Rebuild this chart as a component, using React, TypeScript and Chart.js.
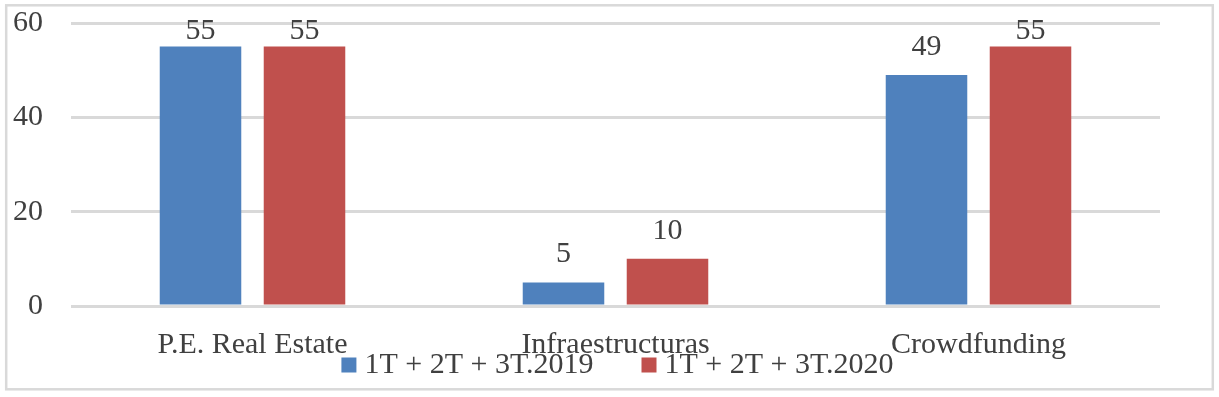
import React, { useEffect, useRef } from "react";
import { Chart, registerables } from "chart.js";

Chart.register(...registerables);

const categories = ["P.E. Real Estate", "Infraestructuras", "Crowdfunding"];
const series2019 = [55, 5, 49];
const series2020 = [55, 10, 55];
const seriesLabels = ["1T + 2T + 3T.2019", "1T + 2T + 3T.2020"];
const seriesColors = ["#4f81bd", "#c0504d"];
const yTicks = [0, 20, 40, 60];

const FONT = "'Liberation Serif', 'Times New Roman', serif";
const FONT_SIZE = 30;

const borderPlugin = {
  id: "outerBorder",
  beforeDraw(chart: any) {
    const ctx = chart.ctx;
    ctx.save();
    ctx.fillStyle = "#ffffff";
    ctx.fillRect(0, 0, chart.width, chart.height);
    ctx.strokeStyle = "#d9d9d9";
    ctx.lineWidth = 2.5;
    ctx.strokeRect(6.2, 5.3, 1212.8 - 6.2, 389.3 - 5.3);
    ctx.restore();
  },
};

const dataLabelPlugin = {
  id: "dataLabels",
  afterDatasetsDraw(chart: any) {
    const ctx = chart.ctx;
    ctx.save();
    ctx.font = `${FONT_SIZE}px ${FONT}`;
    ctx.fillStyle = "#404040";
    ctx.textAlign = "center";
    ctx.textBaseline = "alphabetic";
    chart.data.datasets.forEach((ds: any, i: number) => {
      const meta = chart.getDatasetMeta(i);
      meta.data.forEach((el: any, j: number) => {
        const y = Math.max(el.y - 20, chart.chartArea.top + 16);
        ctx.fillText(String(ds.data[j]), el.x, y);
      });
    });
    ctx.restore();
  },
};

const legendPlugin = {
  id: "customLegend",
  afterDraw(chart: any) {
    const ctx = chart.ctx;
    const box = 15;
    const gap = 8;
    const spacing = 48;
    ctx.save();
    ctx.font = `${FONT_SIZE}px ${FONT}`;
    const items = chart.data.datasets.map((ds: any) => ({
      text: ds.label,
      color: ds.backgroundColor,
      w: ctx.measureText(ds.label).width,
    }));
    const total =
      items.reduce((s: number, it: any) => s + box + gap + it.w, 0) + spacing * (items.length - 1);
    const cx = (chart.chartArea.left + chart.chartArea.right) / 2 + 2;
    const cy = 365;
    let x = cx - total / 2;
    ctx.textBaseline = "middle";
    ctx.textAlign = "left";
    items.forEach((it: any) => {
      ctx.fillStyle = it.color;
      ctx.fillRect(x, cy - box / 2, box, box);
      x += box + gap;
      ctx.fillStyle = "#404040";
      ctx.fillText(it.text, x, cy);
      x += it.w + spacing;
    });
    ctx.restore();
  },
};

export default function App() {
  const ref = useRef<HTMLCanvasElement>(null);
  useEffect(() => {
    if (!ref.current) return;
    const chart = new Chart(ref.current, {
      type: "bar",
      data: {
        labels: categories,
        datasets: [
          { label: seriesLabels[0], data: series2019, backgroundColor: seriesColors[0] },
          { label: seriesLabels[1], data: series2020, backgroundColor: seriesColors[1] },
        ],
      },
      options: {
        responsive: false,
        animation: false,
        devicePixelRatio: 1,
        layout: { padding: { top: 23, left: 0, right: 59, bottom: 0 } },
        datasets: { bar: { categoryPercentage: 0.573, barPercentage: 0.784 } },
        plugins: {
          tooltip: { enabled: false },
          legend: { display: false },
        },
        scales: {
          x: {
            grid: { display: false },
            border: { display: false },
            ticks: {
              color: "#404040",
              padding: 13,
              font: { family: FONT, size: FONT_SIZE },
              maxRotation: 0,
              autoSkip: false,
            },
            afterFit(scale: any) {
              scale.height = 91;
            },
          },
          y: {
            min: 0,
            max: 60,
            border: { display: false },
            grid: { color: "#d9d9d9", lineWidth: 3, drawTicks: false },
            afterBuildTicks(scale: any) {
              scale.ticks = yTicks.map((v) => ({ value: v }));
            },
            ticks: {
              color: "#404040",
              padding: 28,
              font: { family: FONT, size: FONT_SIZE },
            },
            afterFit(scale: any) {
              scale.width = 71;
              scale.paddingTop = 0;
              scale.paddingBottom = 0;
            },
          },
        },
      },
      plugins: [borderPlugin, dataLabelPlugin, legendPlugin],
    });
    return () => chart.destroy();
  }, []);
  return (
    <div style={{ position: "fixed", left: 0, top: 0, width: 1219, height: 397 }}>
      <canvas ref={ref} width={1219} height={397} />
    </div>
  );
}
